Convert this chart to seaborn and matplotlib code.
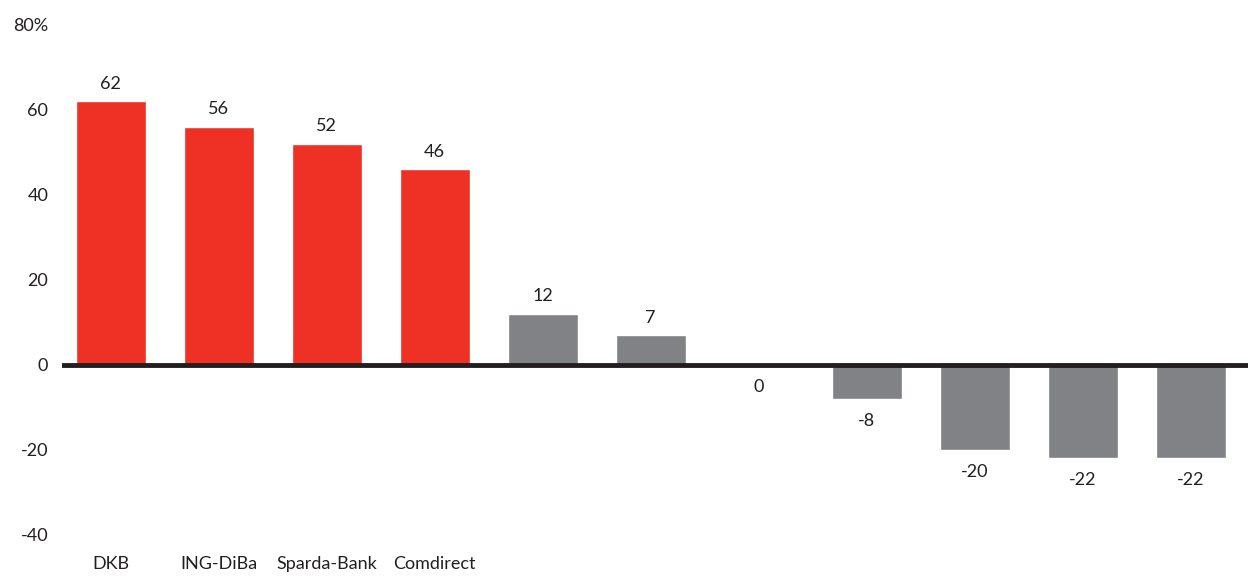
import numpy as np
import matplotlib
matplotlib.use("Agg")
import matplotlib.pyplot as plt
import seaborn as sns

# data
banks = ["DKB", "ING-DiBa", "Sparda-Bank", "Comdirect", "", "", "", "", "", "", ""]
values = [62, 56, 52, 46, 12, 7, 0, -8, -20, -22, -22]
highlighted = 4  # first n bars drawn in red
yticks = [-40, -20, 0, 20, 40, 60, 80]

RED = "#EE3124"
GREY = "#818285"

sns.set_style("white")
plt.rcParams["font.family"] = ["Lato", "DejaVu Sans"]

fig = plt.figure(figsize=(12.48, 5.77), dpi=100)
ax = fig.add_axes([0.0497, 0.0728, 0.9503, 0.8839])

idx = [str(i) for i in range(len(values))]
colors = [RED if i < highlighted else GREY for i in range(len(values))]
sns.barplot(x=idx, y=values, hue=idx, palette=colors, legend=False,
            width=0.65, saturation=1, ax=ax)

ax.axhline(0, color="#231f20", lw=3.5, zorder=5)

for i, v in enumerate(values):
    if v > 0:
        ax.annotate(str(v), (i, v), xytext=(0, 7), textcoords="offset points",
                    ha="center", va="bottom", fontsize=13, color="#231f20")
    else:
        ax.annotate(str(v), (i, v), xytext=(0, -10), textcoords="offset points",
                    ha="center", va="top", fontsize=13, color="#231f20")

ax.set_ylim(-40, 80)
ax.set_xlim(-0.45, 10.53)
ax.set_yticks(yticks)
ax.set_yticklabels([f"{t}%" if t == 80 else str(t) for t in yticks])
ax.set_xticks(range(len(values)))
ax.set_xticklabels(banks)
ax.tick_params(axis="y", length=0, pad=10, labelsize=13, colors="#231f20")
ax.tick_params(axis="x", length=0, pad=15, labelsize=13, colors="#231f20")
ax.set_xlabel("")
ax.set_ylabel("")
sns.despine(ax=ax, left=True, bottom=True)

fig.savefig("out.png", dpi=100)
